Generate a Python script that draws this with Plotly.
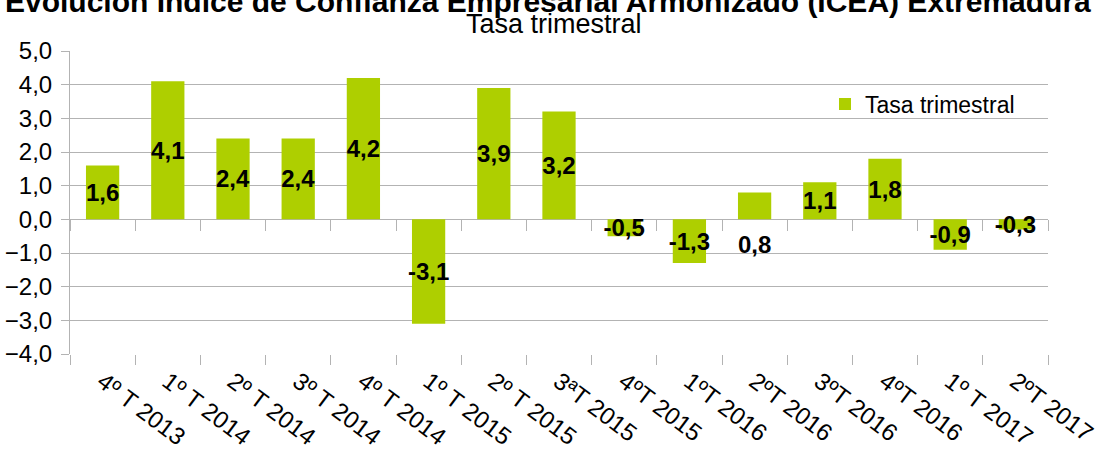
import plotly.graph_objects as go

categories = ["4º T 2013", "1º T 2014", "2º T 2014", "3º T 2014", "4º T 2014",
              "1º T 2015", "2º T 2015", "3ªT 2015", "4ºT 2015", "1ºT 2016",
              "2ºT 2016", "3ºT 2016", "4ºT 2016", "1º T 2017", "2ºT 2017"]
values = [1.6, 4.1, 2.4, 2.4, 4.2, -3.1, 3.9, 3.2, -0.5, -1.3, 0.8, 1.1, 1.8, -0.9, -0.3]
y_ticks = [5, 4, 3, 2, 1, 0, -1, -2, -3, -4]
series_name = "Tasa trimestral"
title_text = "Evolución Índice de Confianza Empresarial Armonizado (ICEA) Extremadura"
subtitle_text = "Tasa trimestral"

GREEN = "#aecf00"
GRID = "#b3b3b3"
FONT = "Liberation Sans, Arial, sans-serif"

W, H = 1100, 455
ML, MR, MT, MB = 70, 52, 51, 101
PH = H - MT - MB

def ypaper(px):
    return (H - MB - px) / PH

def xpaper(px):
    return (px - ML) / (W - ML - MR)

special = 10  # label drawn below the axis in the reference
bar_text = [("" if i == special else f"{v:.1f}".replace(".", ",")) for i, v in enumerate(values)]

fig = go.Figure()
fig.add_trace(go.Bar(
    x=categories, y=values, name=series_name,
    marker=dict(color=GREEN, line=dict(width=0)),
    text=bar_text, textposition="inside", insidetextanchor="middle",
    constraintext="none", textangle=0,
    insidetextfont=dict(family=FONT, size=24, color="black", weight="bold"),
    hoverinfo="skip",
))
fig.add_trace(go.Scatter(
    x=categories, y=values, xaxis="x2", mode="none",
    showlegend=False, hoverinfo="skip",
))

fig.add_annotation(
    x=categories[special], y=0, xref="x", yref="y",
    text=f"{values[special]:.1f}".replace(".", ","),
    showarrow=False, yanchor="top", yshift=-10,
    font=dict(family=FONT, size=24, color="black", weight="bold"),
)
fig.add_annotation(
    x=xpaper(548), y=ypaper(1), xref="paper", yref="paper",
    text=f"<b>{title_text}</b>", showarrow=False,
    xanchor="center", yanchor="middle",
    font=dict(family=FONT, size=30, color="black"),
)
fig.add_annotation(
    x=xpaper(554), y=ypaper(24), xref="paper", yref="paper",
    text=subtitle_text, showarrow=False,
    xanchor="center", yanchor="middle",
    font=dict(family=FONT, size=27, color="black"),
)

fig.update_layout(
    width=W, height=H,
    margin=dict(l=ML, r=MR, t=MT, b=MB, pad=0),
    paper_bgcolor="white", plot_bgcolor="white",
    separators=",.",
    bargap=0.49,
    font=dict(family=FONT, color="black"),
    showlegend=True,
    legend=dict(
        x=xpaper(825), y=ypaper(104), xanchor="left", yanchor="middle",
        bgcolor="rgba(0,0,0,0)", font=dict(family=FONT, size=23, color="black"),
    ),
    xaxis=dict(
        type="category", tickson="boundaries", ticks="outside", ticklen=10,
        tickcolor=GRID, tickwidth=1, showgrid=False, showline=False,
        tickangle=37, ticklabelstandoff=8,
        tickfont=dict(family=FONT, size=24, color="black"),
        automargin=False,
    ),
    xaxis2=dict(
        type="category", matches="x", overlaying="x", anchor="free",
        position=ypaper(219), tickson="boundaries", ticks="outside", ticklen=11,
        tickcolor=GRID, tickwidth=1, showgrid=False, showline=False,
        showticklabels=False,
    ),
    yaxis=dict(
        range=[-4, 5], tickvals=y_ticks, tickformat=".1f",
        ticks="outside", ticklen=8, tickcolor=GRID, tickwidth=1,
        showgrid=True, gridcolor=GRID, gridwidth=1,
        zeroline=False, showline=True, linecolor=GRID, linewidth=1,
        ticklabelstandoff=4, automargin=False,
        tickfont=dict(family=FONT, size=24, color="black"),
    ),
)

fig.write_html("out.html", config={"displayModeBar": False},
               post_script="document.body.style.margin='0';")
